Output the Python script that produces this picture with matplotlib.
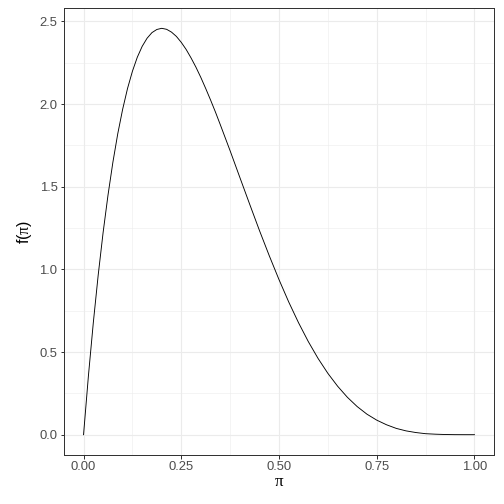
import numpy as np
import matplotlib
matplotlib.use('Agg')
import matplotlib.pyplot as plt

# density values (denser where it bends sharply)
pi_vals = [0.0, 0.0125, 0.025, 0.0375, 0.05, 0.0625, 0.075, 0.0875, 0.1, 0.1125,
           0.125, 0.1375, 0.15, 0.1625, 0.175, 0.1875, 0.2, 0.2125, 0.225, 0.2375,
           0.25, 0.2625, 0.275, 0.2875, 0.3, 0.3125, 0.325, 0.3375, 0.35, 0.375,
           0.4, 0.425, 0.45, 0.475, 0.5, 0.525, 0.55, 0.575, 0.6, 0.625,
           0.65, 0.675, 0.7, 0.725, 0.75, 0.775, 0.8, 0.825, 0.85, 0.875,
           0.9, 0.925, 0.95, 0.975, 1.0]
f_vals = [0.0, 0.357, 0.678, 0.966, 1.222, 1.448, 1.647, 1.820, 1.968, 2.094,
          2.198, 2.283, 2.349, 2.398, 2.432, 2.451, 2.458, 2.452, 2.435, 2.409,
          2.373, 2.330, 2.279, 2.223, 2.161, 2.094, 2.024, 1.951, 1.874, 1.717,
          1.555, 1.394, 1.235, 1.083, 0.938, 0.802, 0.677, 0.563, 0.461, 0.371,
          0.293, 0.226, 0.170, 0.124, 0.088, 0.060, 0.038, 0.023, 0.013, 0.006,
          0.003, 0.001, 0.0002, 0.0, 0.0]

x_ticks = [0.0, 0.25, 0.5, 0.75, 1.0]
x_labels = ['0.00', '0.25', '0.50', '0.75', '1.00']
y_ticks = [0.0, 0.5, 1.0, 1.5, 2.0, 2.5]
y_labels = ['0.0', '0.5', '1.0', '1.5', '2.0', '2.5']

plt.rcParams['font.family'] = ['Liberation Sans', 'DejaVu Sans']
# upright serif pi, like R's symbol font
plt.rcParams['mathtext.fontset'] = 'custom'
plt.rcParams['mathtext.it'] = 'Liberation Serif'
plt.rcParams['mathtext.rm'] = 'Liberation Serif'

fig = plt.figure(figsize=(7, 7), dpi=72)
ax = fig.add_axes([64 / 504, 49 / 504, 430 / 504, 447 / 504])

ax.plot(pi_vals, f_vals, color='black', lw=0.9)

xr = max(pi_vals) - min(pi_vals)
ax.set_xlim(min(pi_vals) - 0.05 * xr, max(pi_vals) + 0.05 * xr)
yr = max(f_vals) - min(f_vals)
ax.set_ylim(min(f_vals) - 0.05 * yr, max(f_vals) + 0.05 * yr)

ax.set_xticks(x_ticks)
ax.set_xticklabels(x_labels)
ax.set_yticks(y_ticks)
ax.set_yticklabels(y_labels)
ax.set_xticks([0.125, 0.375, 0.625, 0.875], minor=True)
ax.set_yticks([0.25, 0.75, 1.25, 1.75, 2.25], minor=True)

ax.grid(which='major', color='#EBEBEB', lw=1.1)
ax.grid(which='minor', color='#EBEBEB', lw=0.55)
ax.set_axisbelow(True)
for s in ax.spines.values():
    s.set_color('#333333')
    s.set_linewidth(1.0)

ax.tick_params(which='major', length=3.5, width=1.0, color='#333333',
               labelsize=13, labelcolor='#4D4D4D', pad=3)
ax.tick_params(which='minor', length=0)

ax.set_xlabel(r'$\pi$', fontsize=17, labelpad=1)
ax.set_ylabel(r'f($\pi$)', fontsize=16, labelpad=6)

fig.savefig('out.png', dpi=72)
